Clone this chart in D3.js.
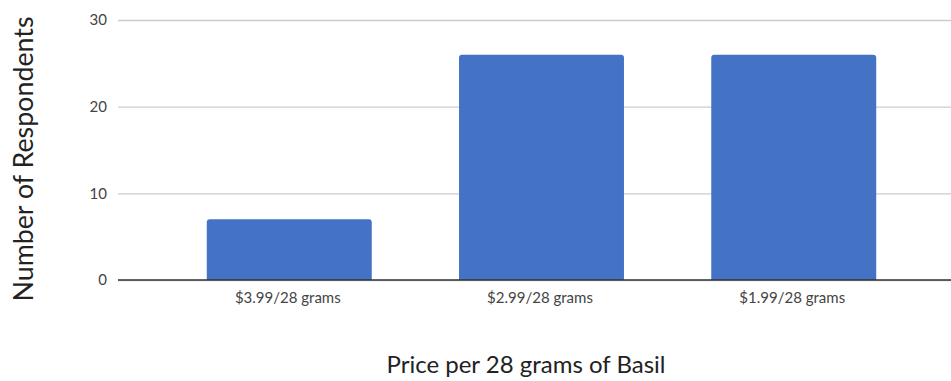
<!DOCTYPE html>
<html>
<head>
<meta charset="utf-8">
<script src="https://cdn.jsdelivr.net/npm/d3@7"></script>
<style>
  html, body { margin: 0; padding: 0; background: #fff; }
  svg { display: block; font-family: Lato, "Open Sans", sans-serif; }
</style>
</head>
<body>
<svg id="chart" width="951" height="381"></svg>
<script>
// Survey results: preferred price point for basil
const categories = ["$3.99/28 grams", "$2.99/28 grams", "$1.99/28 grams"];
const respondents = [7, 26, 26];
const yTicks = [0, 10, 20, 30];
const xTitle = "Price per 28 grams of Basil";
const yTitle = "Number of Respondents";

const svg = d3.select("#chart");
const W = 951, H = 381;
const margin = { left: 118, top: 20, bottom: 101 };
const plotRight = 965; // plot area runs past the right edge of the canvas
const font = "Lato, 'Open Sans', sans-serif";

const x = d3.scaleBand()
  .domain(categories)
  .range([margin.left, plotRight])
  .paddingInner(0.346)
  .paddingOuter(0.352);

const y = d3.scaleLinear()
  .domain([0, 30])
  .range([H - margin.bottom, margin.top]);

const clip = svg.append("defs").append("clipPath").attr("id", "canvas");
clip.append("rect").attr("x", 0).attr("y", 0).attr("width", W).attr("height", H);

const g = svg.append("g").attr("clip-path", "url(#canvas)");

// horizontal gridlines
const yAxis = d3.axisLeft(y).tickValues(yTicks).tickSize(-(plotRight - margin.left)).tickPadding(11);
const yg = g.append("g").attr("transform", `translate(${margin.left},0)`).call(yAxis);
yg.attr("font-size", null).attr("font-family", null);
yg.select(".domain").remove();
yg.selectAll(".tick line").attr("stroke", "#cccccc").attr("stroke-width", 1.4);
yg.selectAll(".tick text")
  .attr("fill", "#444")
  .style("font-size", "15px")
  .style("font-family", font);

// bars with slightly rounded top corners
const r = 3;
function barPath(d, i) {
  const x0 = x(categories[i]), w = x.bandwidth();
  const y0 = y(d), yb = y(0);
  return `M${x0},${yb} V${y0 + r} Q${x0},${y0} ${x0 + r},${y0} H${x0 + w - r} Q${x0 + w},${y0} ${x0 + w},${y0 + r} V${yb} Z`;
}
g.append("g").selectAll("path")
  .data(respondents)
  .join("path")
  .attr("d", barPath)
  .attr("fill", "#4472c4");

// baseline
g.append("line")
  .attr("x1", margin.left).attr("x2", plotRight)
  .attr("y1", y(0)).attr("y2", y(0))
  .attr("stroke", "#333").attr("stroke-width", 1.6);

// category labels
const xAxis = d3.axisBottom(x).tickSize(0).tickPadding(12);
const xg = g.append("g").attr("transform", `translate(0,${y(0)})`).call(xAxis);
xg.attr("font-size", null).attr("font-family", null);
xg.select(".domain").remove();
xg.selectAll(".tick text")
  .attr("fill", "#444")
  .attr("dx", -1.5)
  .style("font-size", "15px")
  .style("font-family", font);

// axis titles
svg.append("text")
  .attr("x", 526).attr("y", 373)
  .attr("text-anchor", "middle")
  .style("font-size", "24px")
  .style("font-family", font)
  .attr("fill", "#222")
  .text(xTitle);

svg.append("text")
  .attr("transform", "translate(33,159) rotate(-90)")
  .attr("text-anchor", "middle")
  .style("font-size", "26.8px")
  .style("font-family", font)
  .attr("fill", "#222")
  .text(yTitle);
</script>
</body>
</html>
